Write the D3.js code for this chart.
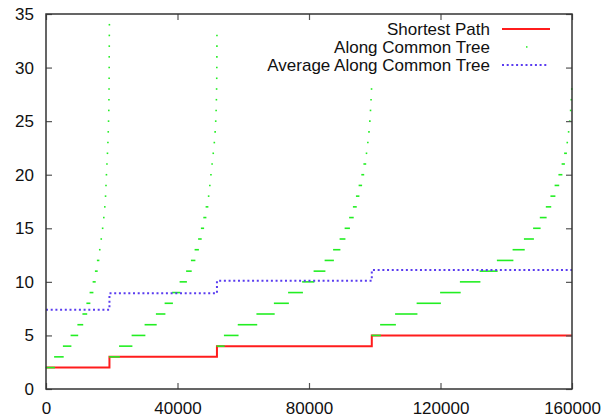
<!DOCTYPE html>
<html>
<head>
<meta charset="utf-8">
<script src="https://cdn.jsdelivr.net/npm/d3@7"></script>
<style>
  html, body { margin: 0; padding: 0; background: #ffffff; }
  svg { display: block; }
</style>
</head>
<body>
<svg id="chart"></svg>
<script>
// Step breakpoints shared by both step lines
const stepStarts = [0, 19300, 52000, 99100];
const stepEnd = 160000;
const shortestPath = [2, 3, 4, 5];
const averageTree = [7.4, 8.93, 10.1, 11.1];

// "Along Common Tree": per segment, first level and x where each next level starts
const seg1Level = 2;
const seg1Starts = [0, 2590, 5260, 7600, 9670, 11200, 12410, 13380, 14300, 15000, 15600,
  16120, 16580, 17030, 17430, 17730, 18040, 18190, 18310, 18460, 18620, 18770, 18890,
  18980, 19070, 19130, 19160, 19190, 19210, 19220, 19240, 19250, 19270];
const seg2Level = 3;
const seg2Starts = [19300, 22350, 26160, 30110, 33550, 36200, 38480, 40760, 42740, 44200,
  45320, 46390, 47240, 47970, 48670, 49270, 49670, 50000, 50350, 50700, 51050, 51350,
  51550, 51700, 51800, 51870, 51920, 51950, 51970, 51985, 51995];
const seg3Level = 4;
const seg3Starts = [52000, 54240, 58450, 64130, 69440, 73760, 78030, 81520, 84870, 87450,
  89430, 90960, 92330, 93480, 94400, 95210, 96030, 96670, 97280, 97700, 98100, 98400,
  98620, 98800, 98950];
const seg4Level = 5;
const seg4Starts = [99100, 101750, 106310, 112860, 120000, 126020, 132020, 137270, 142050,
  145500, 148290, 150330, 152160, 153560, 154830, 155990, 156960, 157720, 158330, 158790,
  159150, 159460, 159700, 159850];

const xTicks = [0, 40000, 80000, 120000, 160000];
const yTicks = [0, 5, 10, 15, 20, 25, 30, 35];
const legendLabels = ['Shortest Path', 'Along Common Tree', 'Average Along Common Tree'];

const WIDTH = 604;
const HEIGHT = 420;
const M = { left: 46, right: 32, top: 14, bottom: 31 };
const FONT = '"Liberation Sans", Arial, Helvetica, sans-serif';
const RED = '#ff1c1c';
const GREEN = '#22ee22';
const BLUE = '#5a3cf0';

const svg = d3.select('#chart')
  .attr('width', WIDTH)
  .attr('height', HEIGHT)
  .style('background', '#ffffff');

const x = d3.scaleLinear().domain([0, 160000]).range([M.left, WIDTH - M.right]);
const y = d3.scaleLinear().domain([0, 35]).range([HEIGHT - M.bottom, M.top]);

const plot = svg.append('g');

// step series as point lists
function stepPoints(levels) {
  const pts = levels.map((v, i) => [stepStarts[i], v]);
  pts.push([stepEnd, levels[levels.length - 1]]);
  return pts;
}

const stepLine = d3.line()
  .x(d => x(d[0]))
  .y(d => y(d[1]))
  .curve(d3.curveStepAfter);

plot.append('path')
  .attr('d', stepLine(stepPoints(shortestPath)))
  .attr('fill', 'none')
  .attr('stroke', RED)
  .attr('stroke-width', 2);

// green dashes
const segments = [
  { level: seg1Level, starts: seg1Starts, end: stepStarts[1] },
  { level: seg2Level, starts: seg2Starts, end: stepStarts[2] },
  { level: seg3Level, starts: seg3Starts, end: stepStarts[3] },
  { level: seg4Level, starts: seg4Starts, end: stepEnd }
];

const dashes = [];
segments.forEach(seg => {
  seg.starts.forEach((s, i) => {
    const e = i + 1 < seg.starts.length ? seg.starts[i + 1] : seg.end;
    dashes.push({ level: seg.level + i, x0: s, x1: e });
  });
});

plot.append('g')
  .selectAll('line')
  .data(dashes)
  .join('line')
  .attr('x1', d => {
    const a = x(d.x0), b = x(d.x1);
    return b - a < 1.6 ? (a + b) / 2 - 0.8 : a - 0.4;
  })
  .attr('x2', d => {
    const a = x(d.x0), b = x(d.x1);
    return b - a < 1.6 ? (a + b) / 2 + 0.8 : b + 0.4;
  })
  .attr('y1', d => y(d.level))
  .attr('y2', d => y(d.level))
  .attr('stroke', GREEN)
  .attr('stroke-width', 1.6);

plot.append('path')
  .attr('d', stepLine(stepPoints(averageTree)))
  .attr('fill', 'none')
  .attr('stroke', BLUE)
  .attr('stroke-width', 2)
  .attr('stroke-dasharray', '2,2.7');

// axes with inward ticks, mirrored on top/right
function styleAxis(g, labels) {
  g.select('.domain').remove();
  g.selectAll('.tick line').attr('stroke', '#555555').attr('stroke-width', 1.2);
  g.selectAll('.tick text')
    .attr('fill', '#111111')
    .attr('font-family', FONT)
    .attr('font-size', 17);
  if (!labels) g.selectAll('.tick text').remove();
}

svg.append('g')
  .attr('transform', `translate(${M.left},0)`)
  .call(d3.axisLeft(y).tickValues(yTicks).tickSizeInner(-6).tickSizeOuter(0).tickPadding(12))
  .call(g => styleAxis(g, true));

svg.append('g')
  .attr('transform', `translate(${WIDTH - M.right},0)`)
  .call(d3.axisRight(y).tickValues(yTicks).tickSizeInner(-6).tickSizeOuter(0))
  .call(g => styleAxis(g, false));

svg.append('g')
  .attr('transform', `translate(0,${HEIGHT - M.bottom})`)
  .call(d3.axisBottom(x).tickValues(xTicks).tickFormat(d3.format('d')).tickSizeInner(-6).tickSizeOuter(0).tickPadding(13))
  .call(g => styleAxis(g, true));

svg.append('g')
  .attr('transform', `translate(0,${M.top})`)
  .call(d3.axisTop(x).tickValues(xTicks).tickSizeInner(-6).tickSizeOuter(0))
  .call(g => styleAxis(g, false));

svg.append('rect')
  .attr('x', M.left)
  .attr('y', M.top)
  .attr('width', WIDTH - M.right - M.left)
  .attr('height', HEIGHT - M.bottom - M.top)
  .attr('fill', 'none')
  .attr('stroke', '#333333')
  .attr('stroke-width', 1.5);

// legend
const legend = svg.append('g');
const legendTextX = 490;
const legendRowY = [29, 47, 65];

legendLabels.forEach((label, i) => {
  legend.append('text')
    .attr('x', legendTextX)
    .attr('y', legendRowY[i])
    .attr('text-anchor', 'end')
    .attr('dominant-baseline', 'central')
    .attr('fill', '#111111')
    .attr('font-family', FONT)
    .attr('font-size', 17)
    .text(label);
});

legend.append('line')
  .attr('x1', 502).attr('x2', 550)
  .attr('y1', legendRowY[0]).attr('y2', legendRowY[0])
  .attr('stroke', RED).attr('stroke-width', 2);

legend.append('rect')
  .attr('x', 526).attr('y', legendRowY[1] - 0.8)
  .attr('width', 1.5).attr('height', 1.5)
  .attr('fill', GREEN);

legend.append('line')
  .attr('x1', 502).attr('x2', 549)
  .attr('y1', legendRowY[2]).attr('y2', legendRowY[2])
  .attr('stroke', BLUE).attr('stroke-width', 2)
  .attr('stroke-dasharray', '2,2.7');
</script>
</body>
</html>
